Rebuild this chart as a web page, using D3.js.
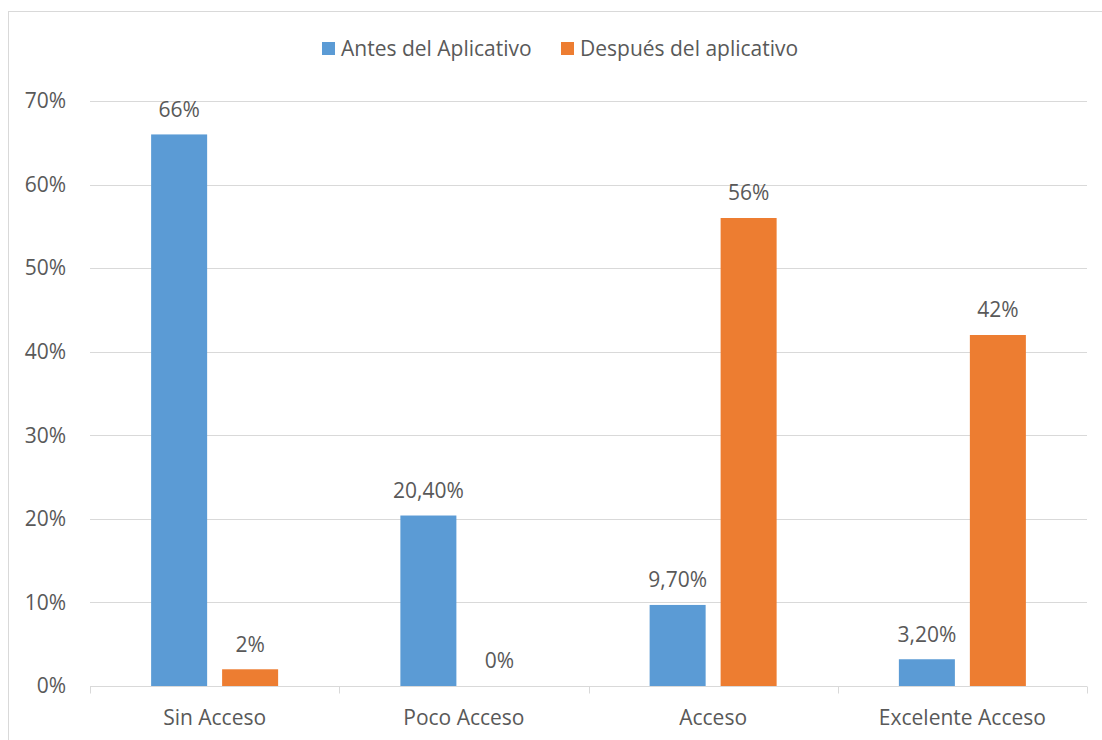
<!DOCTYPE html>
<html>
<head>
<meta charset="utf-8">
<script src="https://cdn.jsdelivr.net/npm/d3@7"></script>
<style>
  html, body { margin: 0; padding: 0; background: #fff; }
  svg { display: block; }
  text { font-family: "Open Sans", sans-serif; fill: #595959; }
</style>
</head>
<body>
<svg id="chart" width="1102" height="740"></svg>
<script>
// Chart data
const categories = ["Sin Acceso", "Poco Acceso", "Acceso", "Excelente Acceso"];
const seriesNames = ["Antes del Aplicativo", "Después del aplicativo"];
const antes = [66, 20.4, 9.7, 3.2];
const despues = [2, 0, 56, 42];
const yTicks = [0, 10, 20, 30, 40, 50, 60, 70];
const colors = ["#5b9bd5", "#ed7d31"];

const seriesValues = [antes, despues];
const rows = categories.map((c, i) => ({
  category: c,
  values: seriesNames.map((s, j) => ({ series: s, value: seriesValues[j][i], idx: j }))
}));

const FS = 21;
const svg = d3.select("#chart");
const margin = { left: 90, right: 1087, top: 101, bottom: 686 };

// Outer frame
svg.append("rect")
  .attr("x", 8.5).attr("y", 11.5)
  .attr("width", 1102).attr("height", 740)
  .attr("fill", "none").attr("stroke", "#d9d9d9").attr("stroke-width", 1);

const x0 = d3.scaleBand().domain(categories).range([margin.left, margin.right]).padding(0);
const x1 = d3.scaleBand().domain(seriesNames).range([0, x0.bandwidth()])
  .paddingInner(0.211).paddingOuter(0.861);
const y = d3.scaleLinear().domain([0, 70]).range([margin.bottom, margin.top]);

// Gridlines
svg.append("g")
  .selectAll("line")
  .data(yTicks.filter(t => t > 0))
  .join("line")
  .attr("x1", margin.left).attr("x2", margin.right)
  .attr("y1", d => Math.round(y(d)) + 0.5).attr("y2", d => Math.round(y(d)) + 0.5)
  .attr("stroke", "#d9d9d9").attr("stroke-width", 1);

// Y axis labels
svg.append("g")
  .selectAll("text")
  .data(yTicks)
  .join("text")
  .attr("x", 66)
  .attr("y", d => y(d))
  .attr("dy", "0.35em")
  .attr("text-anchor", "end")
  .attr("font-size", FS)
  .text(d => d + "%");

// Bars
const groups = svg.append("g")
  .selectAll("g")
  .data(rows)
  .join("g")
  .attr("transform", d => `translate(${x0(d.category)},0)`);

groups.selectAll("rect")
  .data(d => d.values)
  .join("rect")
  .attr("x", d => x1(d.series))
  .attr("width", x1.bandwidth())
  .attr("y", d => y(d.value))
  .attr("height", d => y(0) - y(d.value))
  .attr("fill", d => colors[d.idx]);

const fmt = v => (Number.isInteger(v) ? String(v) : v.toFixed(2).replace(".", ",")) + "%";

groups.selectAll("text")
  .data(d => d.values)
  .join("text")
  .attr("x", d => x1(d.series) + x1.bandwidth() / 2)
  .attr("y", d => y(d.value) - 25)
  .attr("dy", "0.35em")
  .attr("text-anchor", "middle")
  .attr("font-size", FS)
  .text(d => fmt(d.value));

// X axis
const xAxis = svg.append("g").attr("transform", `translate(0,${margin.bottom + 0.5})`);
xAxis.append("line")
  .attr("x1", margin.left).attr("x2", margin.right)
  .attr("stroke", "#d9d9d9").attr("stroke-width", 1);
const tickPos = categories.map(c => x0(c)).concat([margin.right]);
xAxis.selectAll("line.tick")
  .data(tickPos)
  .join("line")
  .attr("class", "tick")
  .attr("x1", d => Math.round(d) + 0.5).attr("x2", d => Math.round(d) + 0.5)
  .attr("y1", 0).attr("y2", 7)
  .attr("stroke", "#d9d9d9").attr("stroke-width", 1);
xAxis.selectAll("text")
  .data(categories)
  .join("text")
  .attr("x", d => x0(d) + x0.bandwidth() / 2)
  .attr("y", 31)
  .attr("dy", "0.35em")
  .attr("text-anchor", "middle")
  .attr("font-size", FS)
  .text(d => d);

// Legend
const legendItems = [{ name: seriesNames[0], x: 322 }, { name: seriesNames[1], x: 561 }];
const legend = svg.append("g");
legend.selectAll("rect")
  .data(legendItems)
  .join("rect")
  .attr("x", d => d.x).attr("y", 42)
  .attr("width", 13).attr("height", 13)
  .attr("fill", (d, i) => colors[i]);
legend.selectAll("text")
  .data(legendItems)
  .join("text")
  .attr("x", d => d.x + 19)
  .attr("y", 48.5)
  .attr("dy", "0.35em")
  .attr("font-size", FS)
  .text(d => d.name);
</script>
</body>
</html>
